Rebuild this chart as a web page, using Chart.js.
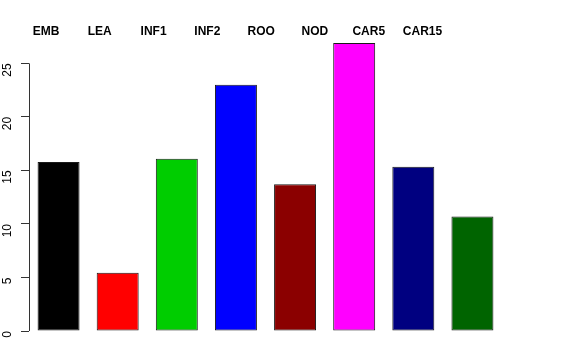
<!DOCTYPE html>
<html>
<head>
<meta charset="utf-8">
<script src="https://cdn.jsdelivr.net/npm/chart.js@4"></script>
<style>
  html, body { margin: 0; padding: 0; background: #fff; }
  #wrap { width: 576px; height: 360px; }
</style>
</head>
<body>
<div id="wrap"><canvas id="canvas" width="576" height="360"></canvas></div>
<script>
// categories and values
const categories = ["EMB", "LEA", "INF1", "INF2", "ROO", "NOD", "CAR5", "CAR15"];
const values = [15.8, 5.45, 16.1, 23.0, 13.7, 26.9, 15.35, 10.7];
const barColors = ["#000000", "#FF0000", "#00CD00", "#0000FF", "#8B0000", "#FF00FF", "#000080", "#006400"];
const yTicks = [0, 5, 10, 15, 20, 25];

// axe y facon R : la ligne ne va que du premier au dernier tick
const rAxisLine = {
    id: "rAxisLine",
    afterDraw(chart) {
        const y = chart.scales.y;
        const ctx = chart.ctx;
        const x = Math.round(chart.chartArea.left) + 0.5;
        ctx.save();
        ctx.strokeStyle = "#333";
        ctx.lineWidth = 1;
        ctx.beginPath();
        ctx.moveTo(x, y.getPixelForValue(yTicks[0]));
        ctx.lineTo(x, y.getPixelForValue(yTicks[yTicks.length - 1]));
        ctx.stroke();
        ctx.restore();
    }
};

const data = {
    labels: categories,
    datasets: [{
        data: values,
        backgroundColor: barColors,
        borderColor: "#1a1a1a",
        borderWidth: 1,
        borderSkipped: false,
        barPercentage: 0.71,
        categoryPercentage: 1.0
    }]
};

const config = {
    type: "bar",
    data: data,
    plugins: [rAxisLine],
    options: {
        responsive: false,
        animation: false,
        layout: { padding: { left: 0, right: 74, top: 0, bottom: 29 } },
        plugins: {
            legend: { display: false },
            tooltip: { enabled: false }
        },
        scales: {
            x: { display: false },
            // noms en haut, espaces regulierement comme dans l'original
            x2: {
                type: "linear",
                position: "top",
                bounds: "data",
                offset: false,
                min: -0.316,
                max: 8.478,
                afterBuildTicks: (scale) => { scale.ticks = categories.map((c, i) => ({ value: i })); },
                afterFit: (scale) => { scale.height = 42; },
                grid: { display: false, drawTicks: false, offset: false },
                border: { display: false },
                ticks: {
                    color: "#000",
                    padding: 3,
                    maxRotation: 0,
                    autoSkip: false,
                    font: { family: "Liberation Sans, Arial, sans-serif", size: 12, weight: "bold" },
                    callback: (v) => categories[v]
                }
            },
            y: {
                min: 0,
                max: 27,
                afterBuildTicks: (scale) => { scale.ticks = yTicks.map(v => ({ value: v })); },
                afterFit: (scale) => { scale.width = 29; },
                border: { display: false },
                grid: { drawOnChartArea: false, drawTicks: true, tickLength: 8, color: "#333" },
                ticks: {
                    color: "#000",
                    padding: 13,
                    minRotation: 90,
                    maxRotation: 90,
                    font: { family: "Liberation Sans, Arial, sans-serif", size: 12 }
                }
            }
        }
    }
};

new Chart(document.getElementById("canvas"), config);
</script>
</body>
</html>
